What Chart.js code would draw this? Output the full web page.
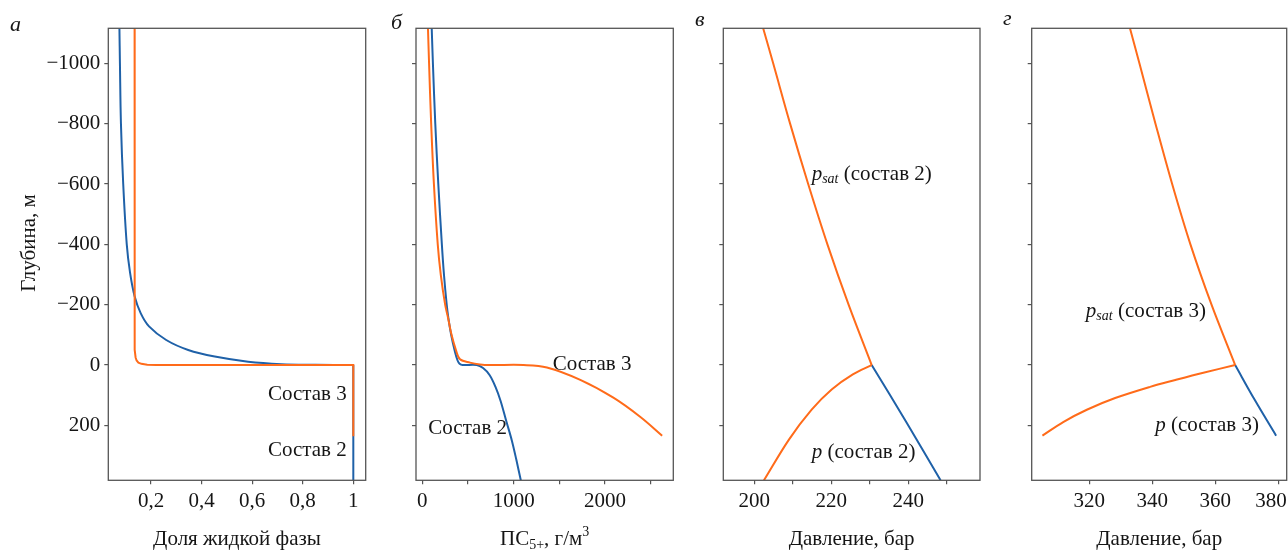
<!DOCTYPE html>
<html>
<head>
<meta charset="utf-8">
<script src="https://cdn.jsdelivr.net/npm/chart.js@4.4.1/dist/chart.umd.min.js"></script>
<style>
html,body{margin:0;padding:0;background:#fff;overflow:hidden;width:1288px;height:552px;}
#wrap{position:relative;width:1288px;height:552px;overflow:hidden;}
#wrap canvas{position:absolute;left:0;top:0;}
</style>
</head>
<body>
<div id="wrap">
<canvas id="pa" width="1340" height="552"></canvas>
<canvas id="pb" width="1340" height="552"></canvas>
<canvas id="pc" width="1340" height="552"></canvas>
<canvas id="pd" width="1340" height="552"></canvas>
</div>
<script>
// ---------- tick values & labels ----------
const DEPTH_TICKS  = [-1000, -800, -600, -400, -200, 0, 200];
const DEPTH_LABELS = ['\u22121000', '\u2212800', '\u2212600', '\u2212400', '\u2212200', '0', '200'];
const FRAC_TICKS   = [0.2, 0.4, 0.6, 0.8, 1];
const FRAC_LABELS  = ['0,2', '0,4', '0,6', '0,8', '1'];
const PC_TICKS     = [0, 500, 1000, 1500, 2000, 2500];
const PC_LABELS    = ['0', '', '1000', '', '2000', ''];
const P2_TICKS     = [200, 210, 220, 230, 240, 250];
const P2_LABELS    = ['200', '', '220', '', '240', ''];
const P3_TICKS     = [320, 340, 360, 380];
const P3_LABELS    = ['320', '340', '360', '380\u2002\u2009'];

// ---------- panel а: доля жидкой фазы ----------
const depthA3 = [-1116, -600, -200, -50, -25, -15, -8, -4, -1, 0, 0, 236];
const fracA3  = [0.135, 0.135, 0.135, 0.136, 0.139, 0.143, 0.150, 0.162, 0.185, 0.22, 1.0, 1.0];
const depthA2 = [-1116, -1000, -800, -600, -400, -306, -228, -172, -128, -83, -50, -28, -11, -3, -1, 0];
const fracA2  = [0.075, 0.077, 0.081, 0.090, 0.104, 0.117, 0.135, 0.159, 0.192, 0.260, 0.347, 0.452, 0.584, 0.715, 0.85, 1.0];
const depthA2v = [0, 382];
const fracA2v  = [1.0, 1.0];

// ---------- panel б: ПС5+ ----------
const depthB3 = [-1116, -1000, -800, -600, -400, -300, -200, -156, -103, -50, -19, -8, -2, 0, 0, 8, 49, 108, 172, 234];
const pcB3    = [62, 74, 97, 127, 169, 202, 250, 282, 318, 368, 413, 522, 632, 741, 1108, 1364, 1729, 2091, 2387, 2625];
const depthB2 = [-1116, -1000, -800, -600, -400, -300, -200, -156, -103, -43, -15, -4, 0, 0, 10, 33, 73, 119, 189, 249, 315, 382];
const pcB2    = [103, 116, 142, 175, 214, 237, 267, 285, 314, 358, 386, 408, 441, 595, 665, 736, 802, 857, 922, 979, 1030, 1078];

// ---------- panel в: давление, состав 2 ----------
const depthCsat = [-1116, -1000, -800, -600, -400, -200, 0];
const pCsat     = [202.3, 204.9, 209.3, 214.0, 219.0, 224.5, 230.5];
const depthClow = [0, 31, 81, 148, 247, 382];
const pClow     = [230.5, 225.6, 220.1, 214.9, 209.0, 202.5];
const depthCp   = [0, 191, 382];
const pCp       = [230.5, 239.6, 248.4];

// ---------- panel г: давление, состав 3 ----------
const depthDsat = [-1116, -1000, -800, -600, -400, -200, 0];
const pDsat     = [332.9, 335.9, 341.0, 346.3, 352.1, 358.8, 366.3];
const depthDlow = [0, 25.5, 49.7, 72.3, 109.4, 148.2, 188.9, 234];
const pDlow     = [366.3, 356.2, 347.3, 339.3, 328.2, 319.2, 311.7, 305.1];
const depthDp   = [0, 117, 234];
const pDp       = [366.3, 372.6, 379.3];

// ---------- styling ----------
const SERIF = "'Liberation Serif', 'DejaVu Serif', serif";
const BLUE = '#1f61a8';
const ORANGE = '#ff6b1a';
const AXIS = '#555555';
const TXT = '#151515';
const FS = 21;
const F  = FS + 'px ' + SERIF;
const FI = 'italic ' + FS + 'px ' + SERIF;
const FSMALL = '14px ' + SERIF;
const FSMALLI = 'italic 14px ' + SERIF;
const Y_MIN = -1116, Y_MAX = 382;
const CW = 1340, CH = 552;

function pts(xs, ys) { return xs.map((v, i) => ({x: v, y: ys[i]})); }

function drawRich(ctx, parts, x, y, align) {
  let w = 0;
  parts.forEach(p => { ctx.font = p[1]; w += ctx.measureText(p[0]).width; });
  let cx = align === 'right' ? x - w : (align === 'center' ? x - w / 2 : x);
  ctx.textAlign = 'left';
  ctx.textBaseline = 'alphabetic';
  parts.forEach(p => {
    ctx.font = p[1];
    ctx.fillText(p[0], cx, y + (p[2] || 0));
    cx += ctx.measureText(p[0]).width;
  });
}

const framePlugin = {
  id: 'frame',
  afterDatasetsDraw(chart) {
    const {ctx, chartArea: a} = chart;
    ctx.save();
    ctx.strokeStyle = AXIS;
    ctx.lineWidth = 1.3;
    ctx.strokeRect(a.left, a.top, a.right - a.left, a.bottom - a.top);
    ctx.restore();
  }
};

function textPlugin(P) {
  return {
    id: 'texts',
    afterDraw(chart) {
      const ctx = chart.ctx;
      const a = chart.chartArea;
      const xs = chart.scales.x, ys = chart.scales.y;
      ctx.save();
      ctx.fillStyle = TXT;
      drawRich(ctx, [[P.letter, 'italic 22px ' + SERIF]], P.letterPos[0], P.letterPos[1], 'left');
      drawRich(ctx, P.xTitle, (a.left + a.right) / 2, 545, 'center');
      (P.notes || []).forEach(n => {
        drawRich(ctx, n.parts, xs.getPixelForValue(n.x), ys.getPixelForValue(n.y), n.align);
      });
      if (P.yTitle) {
        ctx.save();
        ctx.translate(35, 243);
        ctx.rotate(-Math.PI / 2);
        drawRich(ctx, [[P.yTitle, F]], 0, 0, 'center');
        ctx.restore();
      }
      ctx.restore();
    }
  };
}

function makePanel(id, P) {
  const yW = P.yW;
  const xH = CH - P.box.b;
  const gridOpts = {drawOnChartArea: false, drawTicks: true, tickLength: 4, color: AXIS, lineWidth: 1.2};
  return new Chart(document.getElementById(id), {
    type: 'scatter',
    data: {
      datasets: P.series.map(s => ({
        data: pts(s.x, s.y),
        showLine: true,
        borderColor: s.color,
        backgroundColor: s.color,
        borderWidth: 2,
        pointRadius: 0,
        tension: s.tension || 0,
        fill: false
      }))
    },
    options: {
      responsive: false,
      animation: false,
      events: [],
      layout: {padding: {left: P.box.l - yW, top: P.box.t, right: CW - P.box.r, bottom: 0}},
      plugins: {legend: {display: false}, tooltip: {enabled: false}, title: {display: false}},
      scales: {
        x: {
          type: 'linear', min: P.xmin, max: P.xmax,
          afterFit: s => { s.height = xH; },
          afterBuildTicks: s => { s.ticks = P.xticks.map(v => ({value: v})); },
          ticks: {
            callback: (v, i) => P.xlabels[i],
            font: {family: SERIF, size: FS}, color: TXT, padding: 5,
            maxRotation: 0, autoSkip: false
          },
          grid: gridOpts,
          border: {display: false}
        },
        y: {
          type: 'linear', reverse: true, min: Y_MIN, max: Y_MAX,
          afterFit: s => { s.width = yW; },
          afterBuildTicks: s => { s.ticks = DEPTH_TICKS.map(v => ({value: v})); },
          ticks: {
            display: P.showY,
            callback: (v, i) => DEPTH_LABELS[i],
            font: {family: SERIF, size: FS}, color: TXT, padding: 4,
            autoSkip: false
          },
          grid: gridOpts,
          border: {display: false}
        }
      }
    },
    plugins: [framePlugin, textPlugin(P)]
  });
}

const sost = (n) => [['Состав ' + n, F]];

makePanel('pa', {
  box: {l: 108.3, t: 28.3, r: 365.7, b: 480.3}, yW: 70, showY: true,
  xmin: 0.031, xmax: 1.049, xticks: FRAC_TICKS, xlabels: FRAC_LABELS,
  letter: 'а', letterPos: [10, 31],
  xTitle: [['Доля жидкой фазы', F]],
  yTitle: 'Глубина, м',
  series: [
    {x: fracA3, y: depthA3, color: ORANGE, tension: 0},
    {x: fracA2, y: depthA2, color: BLUE, tension: 0.35},
    {x: fracA2v, y: depthA2v, color: BLUE, tension: 0}
  ],
  notes: [
    {parts: sost(3), x: 0.974, y: 116, align: 'right'},
    {parts: sost(2), x: 0.974, y: 303, align: 'right'}
  ]
});

makePanel('pb', {
  box: {l: 416, t: 28.3, r: 673.3, b: 480.3}, yW: 6, showY: false,
  xmin: -69, xmax: 2747, xticks: PC_TICKS, xlabels: PC_LABELS,
  letter: 'б', letterPos: [391, 29],
  xTitle: [['ПС', F], ['5+', FSMALL, 4], [', г/м', F], ['3', FSMALL, -9]],
  series: [
    {x: pcB3, y: depthB3, color: ORANGE, tension: 0.35},
    {x: pcB2, y: depthB2, color: BLUE, tension: 0.35}
  ],
  notes: [
    {parts: sost(3), x: 1427, y: 15, align: 'left'},
    {parts: sost(2), x: 66, y: 230, align: 'left'}
  ]
});

const psat = (n) => [['p', FI], ['sat', FSMALLI, 3], [' (состав ' + n + ')', F]];
const pLab = (n) => [['p', FI], [' (состав ' + n + ')', F]];

makePanel('pc', {
  box: {l: 723.3, t: 28.3, r: 980, b: 480.3}, yW: 6, showY: false,
  xmin: 191.94, xmax: 258.65, xticks: P2_TICKS, xlabels: P2_LABELS,
  letter: 'в', letterPos: [695, 25.5],
  xTitle: [['Давление, бар', F]],
  series: [
    {x: pCsat, y: depthCsat, color: ORANGE, tension: 0.35},
    {x: pClow, y: depthClow, color: ORANGE, tension: 0.35},
    {x: pCp, y: depthCp, color: BLUE, tension: 0.35}
  ],
  notes: [
    {parts: psat(2), x: 214.9, y: -613, align: 'left'},
    {parts: pLab(2), x: 214.9, y: 308, align: 'left'}
  ]
});

makePanel('pd', {
  box: {l: 1031.7, t: 28.3, r: 1286.7, b: 480.3}, yW: 6, showY: false,
  xmin: 301.7, xmax: 382.67, xticks: P3_TICKS, xlabels: P3_LABELS,
  letter: 'г', letterPos: [1003, 25],
  xTitle: [['Давление, бар', F]],
  series: [
    {x: pDsat, y: depthDsat, color: ORANGE, tension: 0.35},
    {x: pDlow, y: depthDlow, color: ORANGE, tension: 0.35},
    {x: pDp, y: depthDp, color: BLUE, tension: 0.35}
  ],
  notes: [
    {parts: psat(3), x: 318.9, y: -160, align: 'left'},
    {parts: pLab(3), x: 340.9, y: 218, align: 'left'}
  ]
});
</script>
</body>
</html>
